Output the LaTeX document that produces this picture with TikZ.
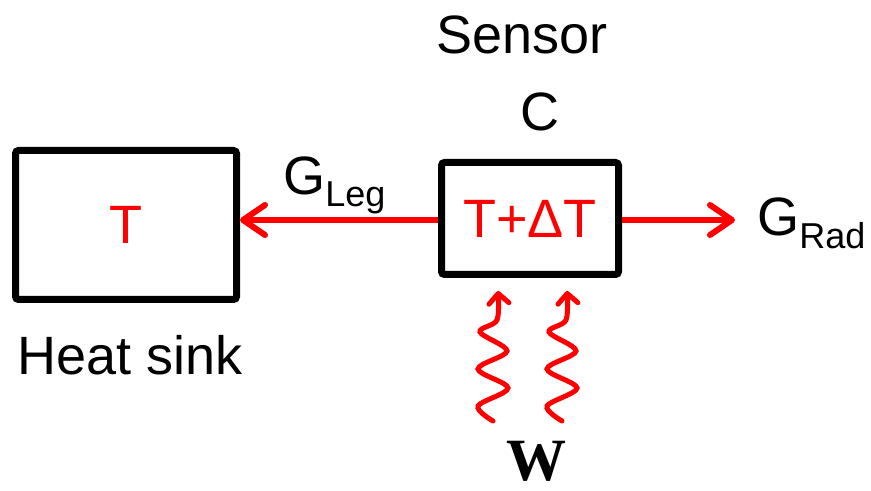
\documentclass[tikz,border=0pt]{standalone}
\usepackage{fontspec}
\setmainfont{Liberation Sans}
\newfontfamily\serifbold{Liberation Serif}
\usepackage{tikz}
\usetikzlibrary{arrows.meta, positioning}
\definecolor{heatred}{RGB}{255,0,0}
\newcommand{\subtxt}[1]{\raisebox{-6pt}{\fontsize{18}{20}\selectfont #1}}
\tikzset{
  bigtxt/.style={font=\fontsize{27}{32}\selectfont, inner sep=0pt},
  blockbox/.style={draw=black, line width=3.5pt, rounded corners=1.5pt, fill=white,
                   inner sep=0pt, text=heatred, font=\fontsize{27}{32}\selectfont},
  flowarrow/.style={draw=heatred, line width=3pt,
                    -{Straight Barb[length=11pt, width=15pt, round]}},
  wavearrow/.style={draw=heatred, line width=2.5pt, line cap=round,
                    -{Straight Barb[length=5pt, width=10pt, round]}},
}

\begin{document}
\begin{tikzpicture}[x=0.5pt, y=-0.5pt]
  \useasboundingbox (0,0) rectangle (871,491);

  %% Heat sink and sensor blocks
  \node[blockbox, minimum width=110.5pt, minimum height=74.5pt] (sink) at (126,225) {T};
  \node[blockbox, minimum width=88.5pt, minimum height=56pt] (sensor) at (530,218.5) {T+ΔT};

  %% Labels
  \node[bigtxt] (sensorlbl) at (522,35) {Sensor};
  \node[bigtxt] (caplbl) at (540,112) {C};
  \node[bigtxt, anchor=base west] (leglbl) at (283,195) {G\subtxt{Leg}};
  \node[bigtxt, anchor=base west] (radlbl) at (757,236) {G\subtxt{Rad}};
  \node[bigtxt] (sinklbl) at (130,355) {Heat sink};
  \node[font=\serifbold\bfseries\fontsize{30}{34}\selectfont, inner sep=0pt,
        text depth=0pt, anchor=base] (wlbl) at (536,480) {W};

  %% Heat flow
  \coordinate (radend) at (735,220);
  \draw[flowarrow] (sensor.west |- radend) -- (sink.east |- radend);
  \draw[flowarrow] (sensor.east |- radend) -- (radend);

  %% Absorbed power
  \foreach \n/\xa in {l/493, r/562}{
    \coordinate (wave\n start) at (\xa,421);
    \draw[wavearrow, shift={(wave\n start)}] plot[smooth, tension=0.55] coordinates
      {(0,0) (-15,-15) (15,-33) (-15,-52) (14,-70) (-13,-89) (4,-101) (5,-130)};
  }
\end{tikzpicture}
\end{document}
